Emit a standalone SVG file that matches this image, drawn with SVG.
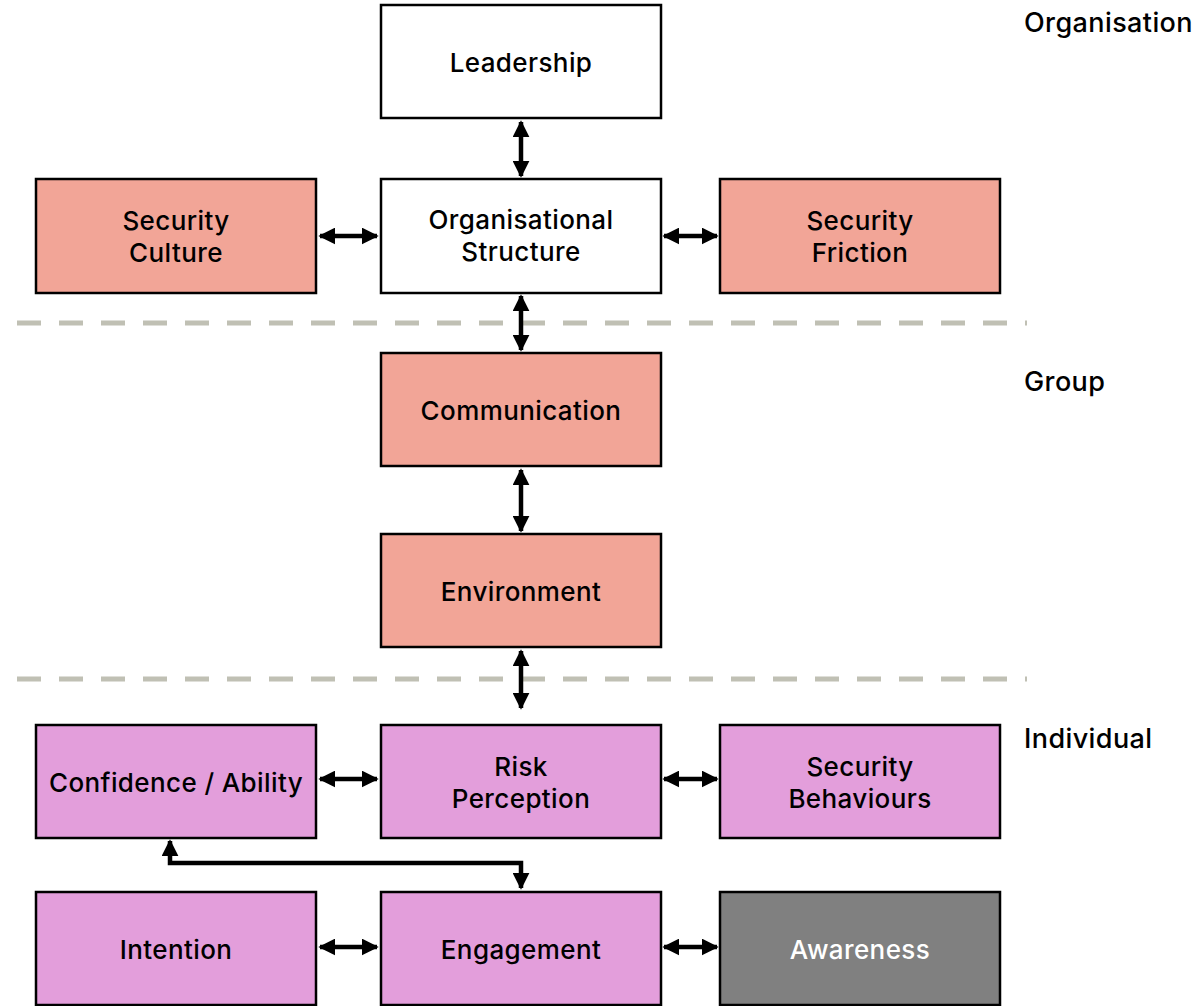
<svg xmlns="http://www.w3.org/2000/svg" width="1196" height="1006" viewBox="0 0 1196 1006">
<style>
.box{stroke:#000;stroke-width:2.5}
.w{fill:#fff}.s{fill:#f2a597}.p{fill:#e39edb}.g{fill:#808080}
text{font-family:Inter,"Liberation Sans",sans-serif;font-size:26px;font-weight:500;letter-spacing:0.4px;text-anchor:middle;fill:#000}
.lbl{text-anchor:start;font-size:27px}
.c{stroke:#000;stroke-width:4.5;fill:none;marker-start:url(#a);marker-end:url(#a)}
.dash{stroke:#c0c0b4;stroke-width:5;stroke-dasharray:24 18}
</style>
<defs>
<marker id="a" viewBox="0 0 10 10" refX="9" refY="5" markerWidth="17" markerHeight="17" markerUnits="userSpaceOnUse" orient="auto-start-reverse"><path d="M0,0 L10,5 L0,10 z" fill="#000"/></marker>
</defs>
<g id="dividers">
<line class="dash" x1="17" y1="323" x2="1027" y2="323"/>
<line class="dash" x1="17" y1="679" x2="1027" y2="679"/>
</g>
<g id="level-labels">
<text class="lbl" x="1024" y="32">Organisation</text>
<text class="lbl" x="1024" y="391">Group</text>
<text class="lbl" x="1024" y="748">Individual</text>
</g>
<g id="connectors">
<path class="c" d="M521,122 V176"/>
<path class="c" d="M320,236 H377"/>
<path class="c" d="M664,236 H717"/>
<path class="c" d="M521,296 V350"/>
<path class="c" d="M521,470 V531"/>
<path class="c" d="M521,651 V708"/>
<path class="c" d="M320,779 H377"/>
<path class="c" d="M664,779 H717"/>
<path class="c" d="M170,841 V863 H521 V888"/>
<path class="c" d="M320,947 H377"/>
<path class="c" d="M664,947 H717"/>
</g>
<g id="leadership"><rect class="box w" x="381" y="5" width="280" height="113"/><text x="521" y="72">Leadership</text></g>
<g id="security-culture"><rect class="box s" x="36" y="179" width="280" height="114"/><text x="176" y="230">Security</text><text x="176" y="262">Culture</text></g>
<g id="organisational-structure"><rect class="box w" x="381" y="179" width="280" height="114"/><text x="521" y="229">Organisational</text><text x="521" y="261">Structure</text></g>
<g id="security-friction"><rect class="box s" x="720" y="179" width="280" height="114"/><text x="860" y="230">Security</text><text x="860" y="262">Friction</text></g>
<g id="communication"><rect class="box s" x="381" y="353" width="280" height="113"/><text x="521" y="420">Communication</text></g>
<g id="environment"><rect class="box s" x="381" y="534" width="280" height="113"/><text x="521" y="601">Environment</text></g>
<g id="confidence-ability"><rect class="box p" x="36" y="725" width="280" height="113"/><text x="176" y="792">Confidence / Ability</text></g>
<g id="risk-perception"><rect class="box p" x="381" y="725" width="280" height="113"/><text x="521" y="776">Risk</text><text x="521" y="808">Perception</text></g>
<g id="security-behaviours"><rect class="box p" x="720" y="725" width="280" height="113"/><text x="860" y="776">Security</text><text x="860" y="808">Behaviours</text></g>
<g id="intention"><rect class="box p" x="36" y="892" width="280" height="113"/><text x="176" y="959">Intention</text></g>
<g id="engagement"><rect class="box p" x="381" y="892" width="280" height="113"/><text x="521" y="959">Engagement</text></g>
<g id="awareness"><rect class="box g" x="720" y="892" width="280" height="113"/><text x="860" y="959" style="fill:#fff">Awareness</text></g>
</svg>
